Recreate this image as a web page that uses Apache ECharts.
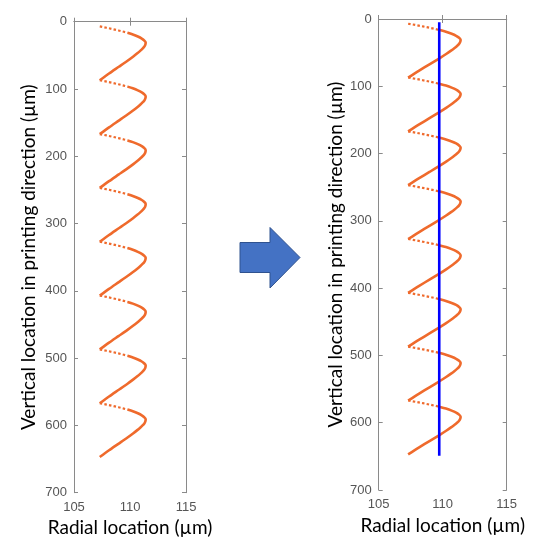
<!DOCTYPE html>
<html>
<head>
<meta charset="utf-8">
<script src="https://cdn.jsdelivr.net/npm/echarts@6/dist/echarts.min.js"></script>
<style>
html,body{margin:0;padding:0;background:#fff;}
#chart{width:534px;height:550px;}
</style>
</head>
<body>
<div id="chart"></div>
<script>
// ---- Data ----
const yTickValues = [0, 100, 200, 300, 400, 500, 600, 700];
const xTickValues = [105, 110, 115];
// depth (µm) of each trough where a new cycle starts
const troughDepths = [7, 87, 167, 247, 327, 407, 487, 567];
// fast (dotted) rising part of one cycle: depth offset from trough, radial location
const riseOffset = [0, 2, 4, 6, 8, 9.5];
const riseRadial = [107.3, 107.9, 108.45, 108.97, 109.45, 109.78];
// slow (solid) part of one cycle
const fallOffset = [9.5, 12, 15, 18, 21, 24, 27, 30, 33, 36, 40, 45, 51, 60, 70, 80];
const fallRadial = [109.78, 110.25, 110.7, 111.05, 111.28, 111.4, 111.37, 111.28, 111.12, 110.93, 110.65, 110.27, 109.78, 109.0, 108.13, 107.3];
// fitted vertical (blue) line in the right panel
const fitRadial = 109.73;
const fitDepthStart = 5;
const fitDepthEnd = 649;

// ---- build series data ----
function buildSegments(offsets, radial) {
  const out = [];
  troughDepths.forEach((t, k) => {
    if (k > 0) out.push([null, null]);
    offsets.forEach((o, i) => out.push([radial[i], t + o]));
  });
  return out;
}
const dottedData = buildSegments(riseOffset, riseRadial);
const solidData = buildSegments(fallOffset, fallRadial);
const fitData = [[fitRadial, fitDepthStart], [fitRadial, fitDepthEnd]];

const ORANGE = '#EF6A2C';
const AXIS = '#8a8a8a';
const LABEL = '#555555';
const TITLE_FONT = 'Lato';

const grids = [
  {left: 74, top: 21.7, width: 112, height: 471},
  {left: 378.7, top: 19, width: 128, height: 471}
];
const yNameGap = [36, 33];

const xAxes = [], yAxes = [], series = [];
grids.forEach((g, gi) => {
  xAxes.push({
    gridIndex: gi, type: 'value', min: 105, max: 115, interval: 5, position: 'bottom',
    name: 'Radial location (µm)', nameLocation: 'middle', nameGap: 23,
    nameTextStyle: {fontFamily: TITLE_FONT, fontSize: 19, color: '#000'},
    axisLine: {show: true, lineStyle: {color: AXIS, width: 1}},
    axisTick: {show: true, inside: true, length: 4, lineStyle: {color: AXIS}},
    axisLabel: {color: LABEL, fontSize: 13, fontFamily: 'Liberation Sans', margin: 8,
      formatter: v => xTickValues.includes(v) ? String(v) : ''},
    splitLine: {show: false}
  });
  xAxes.push({
    gridIndex: gi, type: 'value', min: 105, max: 115, interval: 5, position: 'top',
    axisLine: {show: true, lineStyle: {color: AXIS, width: 1}},
    axisTick: {show: true, inside: true, length: 4, lineStyle: {color: AXIS}},
    axisLabel: {show: false}, splitLine: {show: false}
  });
  yAxes.push({
    gridIndex: gi, type: 'value', min: 0, max: 700, interval: 100, inverse: true, position: 'left',
    name: 'Vertical location in printing direction (µm)', nameLocation: 'middle', nameGap: yNameGap[gi],
    nameRotate: 90,
    nameTextStyle: {fontFamily: TITLE_FONT, fontSize: 19, color: '#000'},
    axisLine: {show: true, lineStyle: {color: AXIS, width: 1}},
    axisTick: {show: true, inside: true, length: 4, lineStyle: {color: AXIS}},
    axisLabel: {color: LABEL, fontSize: 13, fontFamily: 'Liberation Sans', margin: 7,
      formatter: v => yTickValues.includes(v) ? String(v) : ''},
    splitLine: {show: false}
  });
  yAxes.push({
    gridIndex: gi, type: 'value', min: 0, max: 700, interval: 100, inverse: true, position: 'right',
    axisLine: {show: true, lineStyle: {color: AXIS, width: 1}},
    axisTick: {show: true, inside: true, length: 4, lineStyle: {color: AXIS}},
    axisLabel: {show: false}, splitLine: {show: false}
  });
  const xi = gi * 2, yi = gi * 2;
  series.push({
    type: 'line', xAxisIndex: xi, yAxisIndex: yi, data: dottedData, showSymbol: false,
    connectNulls: false, silent: true, animation: false,
    lineStyle: {color: ORANGE, width: 2.2, type: [2.5, 2.2]}
  });
  series.push({
    type: 'line', xAxisIndex: xi, yAxisIndex: yi, data: solidData, showSymbol: false,
    connectNulls: false, silent: true, animation: false, smooth: 0.25,
    lineStyle: {color: ORANGE, width: 2.6}
  });
  if (gi === 1) {
    series.push({
      type: 'line', xAxisIndex: xi, yAxisIndex: yi, data: fitData, showSymbol: false,
      silent: true, animation: false, z: 5,
      lineStyle: {color: '#0000FF', width: 2.6}
    });
  }
});

const chart = echarts.init(document.getElementById('chart'), null, {renderer: 'canvas'});
chart.setOption({
  backgroundColor: '#ffffff',
  animation: false,
  grid: grids,
  xAxis: xAxes,
  yAxis: yAxes,
  series: series,
  graphic: [{
    type: 'polygon',
    shape: {points: [[240, 242.5], [270, 242.5], [270, 227.5], [300, 257.5], [270, 288], [270, 272.5], [240, 272.5]]},
    style: {fill: '#4472C4', stroke: '#2F528F', lineWidth: 1}
  }]
});
</script>
</body>
</html>
